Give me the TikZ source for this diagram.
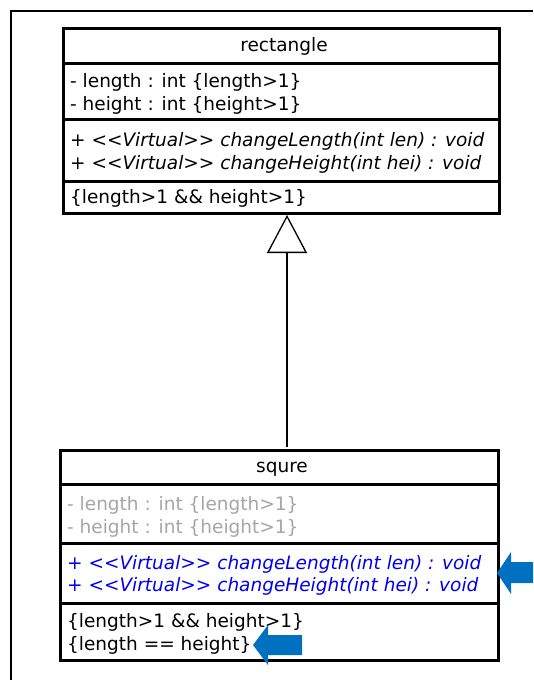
\documentclass[tikz,border=0pt]{standalone}
\usepackage{fontspec}
\setmainfont{DejaVu Sans}
\usetikzlibrary{arrows.meta}
\definecolor{attrgray}{HTML}{A6A6A6}
\definecolor{opblue}{HTML}{0000F0}
\definecolor{markblue}{HTML}{0070C0}
\begin{document}
\begin{tikzpicture}[x=1pt,y=-1pt,
  compart/.style={draw, line width=3pt, inner sep=0pt, minimum width=#1, anchor=north west},
  umltext/.style={inner sep=0pt, anchor=base west, font=\fontsize{18.5}{23}\selectfont},
  umltitle/.style={inner sep=0pt, anchor=base, font=\fontsize{18.5}{23}\selectfont},
  umlop/.style={umltext, font=\fontsize{18.5}{23}\selectfont\itshape},
  inherit/.style={line width=1.3pt, -{Triangle[open, length=38pt, width=40pt, line width=1.3pt]}},
]
\useasboundingbox (0,0) rectangle (533,680);
\fill[white] (0,0) rectangle (533,680);

% outer frame
\draw[line width=1.6pt] (11,680) -- (11,11) -- (533,11);

% class "rectangle"
\node[compart=436pt, minimum height=35pt] (rect-hd) at (62,27) {};
\node[compart=436pt, minimum height=56pt] (rect-attr) at (62,62) {};
\node[compart=436pt, minimum height=62pt] (rect-ops) at (62,118) {};
\node[compart=436pt, minimum height=32pt] (rect-cons) at (62,180) {};

\node[umltitle] (rect-name) at (284,51) {rectangle};
\node[umltext] (rect-a1) at (70,87) {- length : int \{length>1\}};
\node[umltext] (rect-a2) at (70,110) {- height : int \{height>1\}};
\node[umlop] (rect-o1) at (70,146) {+ <{}<Virtual>{}> changeLength(int len) : void};
\node[umlop] (rect-o2) at (70,169) {+ <{}<Virtual>{}> changeHeight(int hei) : void};
\node[umltext] (rect-c1) at (70,203) {\{length>1 \&\& height>1\}};

% class "squre"
\node[compart=438pt, minimum height=34pt] (sq-hd) at (59,449) {};
\node[compart=438pt, minimum height=59pt] (sq-attr) at (59,483) {};
\node[compart=438pt, minimum height=60pt] (sq-ops) at (59,542) {};
\node[compart=438pt, minimum height=57pt] (sq-cons) at (59,602) {};

\node[umltitle] (sq-name) at (282,472) {squre};
\node[umltext, text=attrgray] (sq-a1) at (67,510) {- length : int \{length>1\}};
\node[umltext, text=attrgray] (sq-a2) at (67,533) {- height : int \{height>1\}};
\node[umlop, text=opblue] (sq-o1) at (67,569) {+ <{}<Virtual>{}> changeLength(int len) : void};
\node[umlop, text=opblue] (sq-o2) at (67,591) {+ <{}<Virtual>{}> changeHeight(int hei) : void};
\node[umltext] (sq-c1) at (67,627) {\{length>1 \&\& height>1\}};
\node[umltext] (sq-c2) at (67,650) {\{length == height\}};

% generalisation
\coordinate (gen-foot) at (287,447);
\draw[inherit] (gen-foot) -- (gen-foot |- rect-cons.south);

% callout arrows
\fill[markblue] (497,573) -- (511,552) -- (511,562) -- (533,562) -- (533,583) -- (511,583) -- (511,594) -- cycle;
\fill[markblue] (253,645) -- (268,625) -- (268,635) -- (302,635) -- (302,655) -- (268,655) -- (268,665) -- cycle;
\end{tikzpicture}
\end{document}
